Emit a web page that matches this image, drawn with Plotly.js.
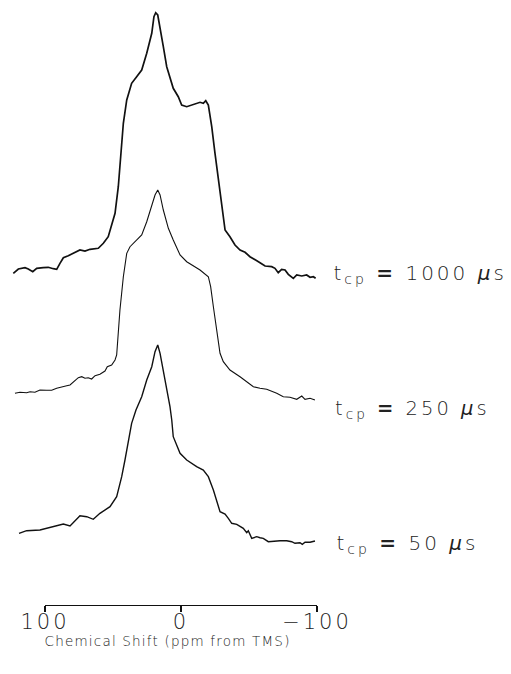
<!DOCTYPE html>
<html>
<head>
<meta charset="utf-8">
<script src="https://cdn.plot.ly/plotly-3.0.1.min.js"></script>
<style>
html,body{margin:0;padding:0;background:#fff;}
#chart{width:511px;height:674px;}
#chart .x2tick text{letter-spacing:3px;}
#chart .annotation-text{letter-spacing:3px;}
#chart .annotation.title-ann .annotation-text{letter-spacing:1.2px;}
</style>
</head>
<body>
<div id="chart"></div>
<script>
// Chemical shift (ppm) and intensity (a.u., relative to each trace's own baseline)
const shift1000 = [123.3,119.6,114.7,112.3,109.0,106.1,101.3,97.6,93.9,91.4,89.0,86.5,82.9,79.2,74.3,70.6,66.9,60.8,57.1,53.5,48.5,46.1,44.3,42.4,39.9,36.3,32.6,28.9,25.2,21.5,19.9,18.6,17.1,15.4,13.0,10.5,8.1,5.7,2.0,-0.5,-4.2,-7.9,-11.5,-14.0,-16.4,-18.2,-20.1,-22.6,-25.0,-27.4,-29.9,-32.4,-36.0,-39.7,-43.4,-47.1,-50.7,-54.4,-58.1,-61.8,-66.7,-69.1,-71.5,-74.0,-76.5,-78.9,-82.6,-85.1,-88.8,-92.4,-94.9,-97.3,-99.0];
const int1000   = [-1.3,3,4.3,3,0.3,3.7,4.3,4.7,3.3,2.7,8.7,14.3,16.3,18.7,22,21,22.7,23.7,28.7,35.3,58.7,85.3,118.7,148.7,172,188.7,195.3,202,218.7,238.7,255.3,259.3,257,245.3,225.3,205.3,195.3,183.7,175.3,167,165.3,167,168.7,169.7,168.7,171.3,167,145.3,118.7,92,65.3,42,35.3,27,22,19.7,15.3,12.7,9.3,6,5.3,3.7,-0.7,2.7,2,-2.3,-6.3,-3,-4,-3,-5.3,-4.7,-6.3];

const shift250 = [122.1,118.4,113.5,111.0,107.4,103.7,98.8,95.1,91.4,87.7,84.0,81.6,77.9,75.5,73.0,70.6,68.2,65.7,63.2,59.6,55.9,54.2,51.0,48.5,47.3,46.5,44.9,42.4,39.9,37.5,32.6,28.9,25.2,21.5,19.1,17.1,15.4,13.0,9.3,5.7,0.7,-4.2,-9.0,-14.0,-20.1,-21.8,-23.8,-26.3,-28.7,-31.1,-36.0,-43.4,-48.3,-53.2,-58.1,-63.0,-70.4,-75.2,-80.1,-85.1,-88.8,-91.2,-94.9,-98.5];
const int250   = [-0.3,0.7,0.3,1.3,0.7,3,2.7,2.7,4.7,6.3,7.3,8,12,15.3,16.3,14.7,15.3,14,17.3,18.7,22,26.3,28,33,38,53,83,116.3,139.7,146.3,153,158,171.3,186.3,198,203,198,183,164.7,153,138,131.3,127,123,116.3,106.3,86.3,59.7,39.7,31.3,23,16.3,11.3,6.3,4.7,3.7,-0.3,-3.7,-4.3,-6.3,-3,-6.3,-5.3,-7];

const shift50 = [119.1,113.5,103.7,96.3,86.5,81.6,74.3,69.3,64.5,59.6,52.2,47.3,43.6,41.2,38.8,36.3,33.1,28.9,25.2,21.5,19.1,17.1,15.4,13.0,10.5,8.1,6.8,5.7,0.7,-4.2,-11.5,-16.4,-20.1,-23.8,-28.7,-32.4,-34.8,-37.3,-41.0,-43.4,-45.8,-48.3,-49.5,-52.0,-55.7,-58.1,-60.5,-64.2,-67.9,-72.8,-77.7,-81.4,-83.8,-87.5,-89.2,-91.2,-94.9,-98.5];
const int50   = [-0.3,2.3,3,5.7,9,7,17.3,16.3,13.7,19.7,26.3,36.3,56.3,73,93,109.7,123,136.3,153,166.3,181.3,188,179.7,163,146.3,126.3,113,96.3,79.7,73,66.3,63,56.3,43,21.3,19,14.7,9.7,8.7,7,4.7,0.3,2.3,-5.3,-3.7,-4.7,-5.3,-8.7,-8,-7.7,-7.7,-8.7,-10.3,-9.7,-11.3,-9.3,-9.3,-8];

const spectraShift = [shift1000, shift250, shift50];
const spectraInt = [int1000, int250, int50];
const spectraOffset = [333, 212, 72];
const spectraLabels = ['1000', '250', '50'];

const tickValues = [100, 0, -100];
const tickLabels = ['100', '0', '\u2212100'];
const axisTitle = 'Chemical Shift (ppm from TMS)';

const W = 511, H = 674;
const lineWidths = [1.7, 1.1, 1.4];
const labelY = [274, 409, 544];
const labelSize = [20, 19.5, 20];

const traces = spectraShift.map((xs, i) => ({
  type: 'scatter', mode: 'lines',
  x: xs,
  y: spectraInt[i].map(v => v + spectraOffset[i]),
  line: {color: '#111', width: lineWidths[i]},
  xaxis: 'x', yaxis: 'y', hoverinfo: 'skip', showlegend: false
}));
traces.push({type: 'scatter', mode: 'lines', x: [], y: [], xaxis: 'x2', yaxis: 'y', showlegend: false});

const annotations = spectraLabels.map((lab, i) => ({
  xref: 'paper', yref: 'paper',
  x: 351 / W, y: (H - labelY[i]) / H,
  xanchor: 'left', yanchor: 'middle', showarrow: false,
  text: 't<sub>cp</sub> <b>=</b> ' + lab + ' <i>\u03bc</i>s',
  font: {family: 'DejaVu Sans', size: labelSize[i], color: '#222', weight: 200}
}));
annotations.push({
  xref: 'paper', yref: 'paper', x: 167 / W, y: (H - 641) / H,
  xanchor: 'center', yanchor: 'middle', showarrow: false,
  text: axisTitle,
  font: {family: 'DejaVu Sans', size: 13.5, color: '#222', weight: 200}
});

const layout = {
  width: W, height: H,
  margin: {l: 0, r: 0, t: 0, b: 0},
  paper_bgcolor: '#fff', plot_bgcolor: 'rgba(0,0,0,0)',
  showlegend: false,
  xaxis: {
    domain: [4.2 / W, 317 / W], range: [130, -100],
    showline: false, showgrid: false, zeroline: false,
    showticklabels: false, ticks: '', anchor: 'y'
  },
  xaxis2: {
    domain: [45 / W, 317 / W], range: [100, -100],
    showline: true, linecolor: '#111', linewidth: 1.3,
    showgrid: false, zeroline: false,
    ticks: 'outside', ticklen: 6, tickwidth: 1.2, tickcolor: '#111',
    tickvals: tickValues, ticktext: tickLabels,
    ticklabelstandoff: -9,
    tickfont: {family: 'DejaVu Sans', size: 21, color: '#222', weight: 200},
    anchor: 'y'
  },
  yaxis: {
    domain: [(H - 605) / H, 1], range: [0, 605],
    visible: false, showgrid: false, zeroline: false
  },
  annotations: annotations
};

Plotly.newPlot('chart', traces, layout, {staticPlot: true, displayModeBar: false}).then(() => {
  const anns = document.querySelectorAll('#chart .annotation');
  if (anns.length) anns[anns.length - 1].classList.add('title-ann');
});
</script>
</body>
</html>
